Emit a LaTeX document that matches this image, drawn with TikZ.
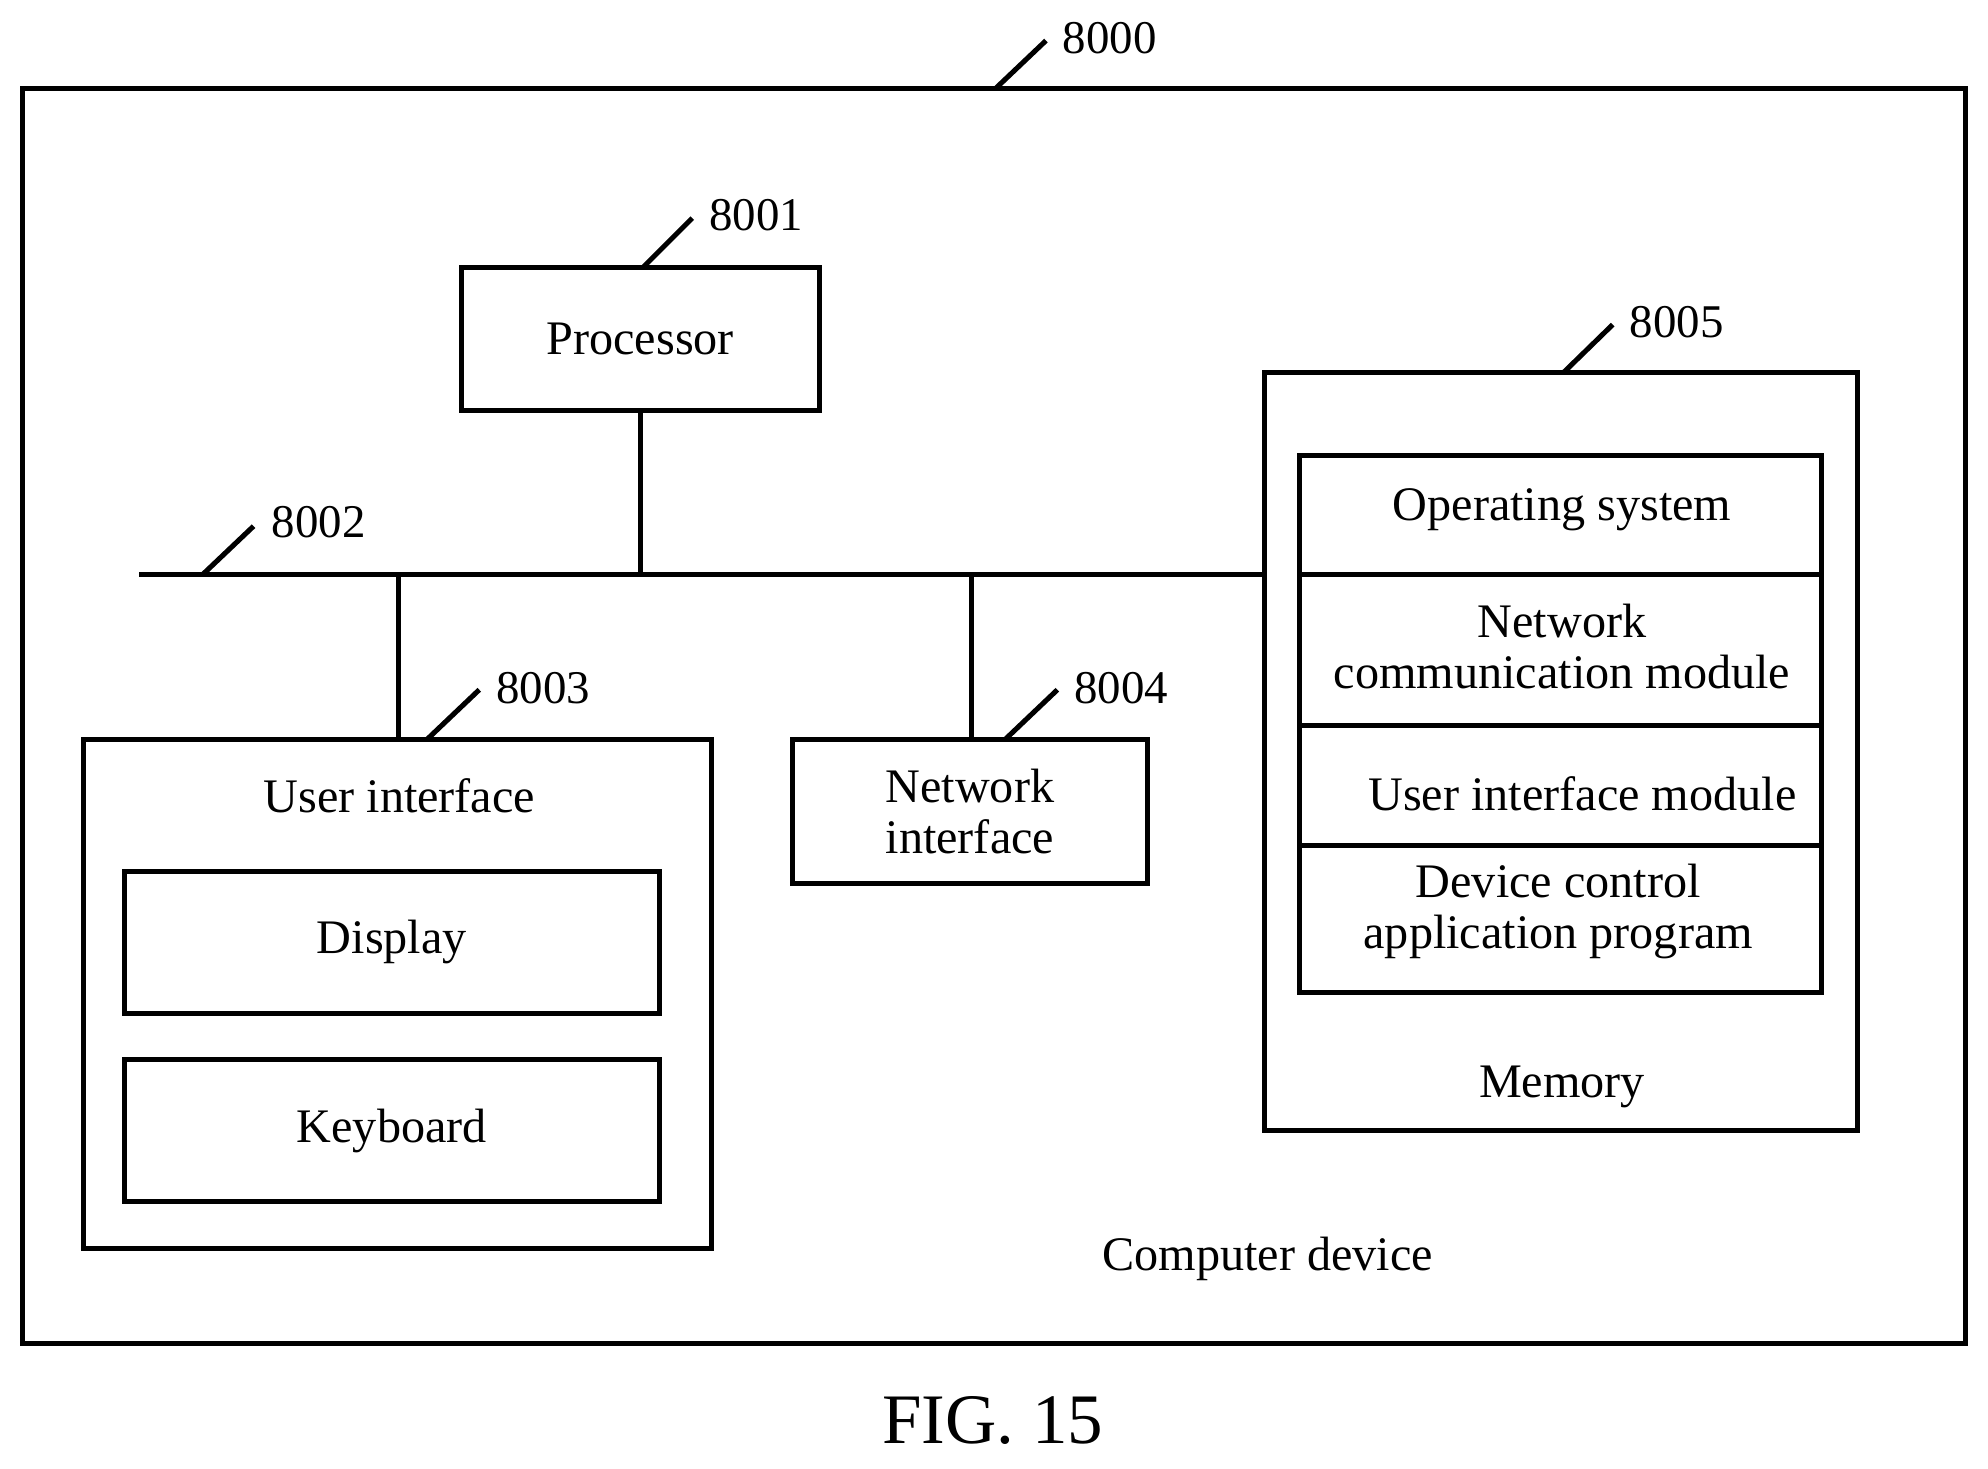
\documentclass[tikz,border=0pt]{standalone}
\usepackage{fontspec}
\setmainfont{Liberation Serif}
\begin{document}
\begin{tikzpicture}[x=0.5pt,y=-0.5pt,
  box/.style={draw,line width=2pt},
  ln/.style={line width=2pt},
  t/.style={font=\fontsize{19}{20}\selectfont,align=center,inner sep=0},
  lab/.style={font=\fontsize{18.5}{20}\selectfont,inner sep=0,anchor=west}]
\useasboundingbox (0,0) rectangle (1568,1158);
\draw[box] (18,70) rectangle (1550,1060);
\coordinate (a0) at (785,70); \coordinate (b0) at (825,32);
\draw[ln] (a0)--(b0); \node[lab] (l0) at (838,30) {8000};
% processor
\node[box,minimum width=141pt,minimum height=56.5pt,t] (proc) at (505,267.5) {Processor};
\coordinate (a1) at (507,211); \coordinate (b1) at (546,172);
\draw[ln] (a1)--(b1); \node[lab] (l1) at (559,170) {8001};
% bus
\coordinate (bl) at (110,453); \coordinate (br) at (997,453);
\draw[ln] (bl)--(br);
\coordinate (a2) at (160,453); \coordinate (b2) at (200,415);
\draw[ln] (a2)--(b2); \node[lab] (l2) at (214,412) {8002};
\coordinate (pb) at (505,453); \draw[ln] (proc.south)--(pb);
% UI
\node[box,minimum width=247.5pt,minimum height=201pt] (ui) at (313.5,784) {};
\node[t] (uit) at (315,628) {User interface};
\node[box,minimum width=211pt,minimum height=56pt,t] (disp) at (309,743) {Display};
\node[box,minimum width=211pt,minimum height=56pt,t] (kb) at (309,892) {Keyboard};
\coordinate (ub) at (314,453); \coordinate (ut) at (314,583); \draw[ln] (ub)--(ut);
\coordinate (a3) at (337,583); \coordinate (b3) at (378,544);
\draw[ln] (a3)--(b3); \node[lab] (l3) at (391,543) {8003};
% net
\node[box,minimum width=140pt,minimum height=57pt,t] (net) at (765,640) {Network\\interface};
\coordinate (nb) at (766,453); \draw[ln] (nb)--(net.north -| nb);
\coordinate (a4) at (793,583); \coordinate (b4) at (834,544);
\draw[ln] (a4)--(b4); \node[lab] (l4) at (847,543) {8004};
% memory
\node[box,minimum width=234pt,minimum height=299pt] (mem) at (1231,593) {};
\coordinate (a5) at (1233,294); \coordinate (b5) at (1272,256);
\draw[ln] (a5)--(b5); \node[lab] (l5) at (1285,254) {8005};
\draw[box] (1025,359) rectangle (1437,783);
\draw[ln] (1025,453)--(1437,453);
\draw[ln] (1025,572)--(1437,572);
\draw[ln] (1025,667)--(1437,667);
\node[t] (os) at (1232,402) {Operating system};
\node[t] (ncm) at (1232,510) {Network\\communication module};
\node[t] (uim) at (1248,626) {User interface module};
\node[t] (dca) at (1229,719) {Device control\\application program};
\node[t] (memt) at (1232,857) {Memory};
\node[t] (cd) at (1000,993) {Computer device};
\node[font=\fontsize{28}{30}\selectfont,inner sep=0] (fig) at (783,1120) {FIG. 15};
\end{tikzpicture}
\end{document}
